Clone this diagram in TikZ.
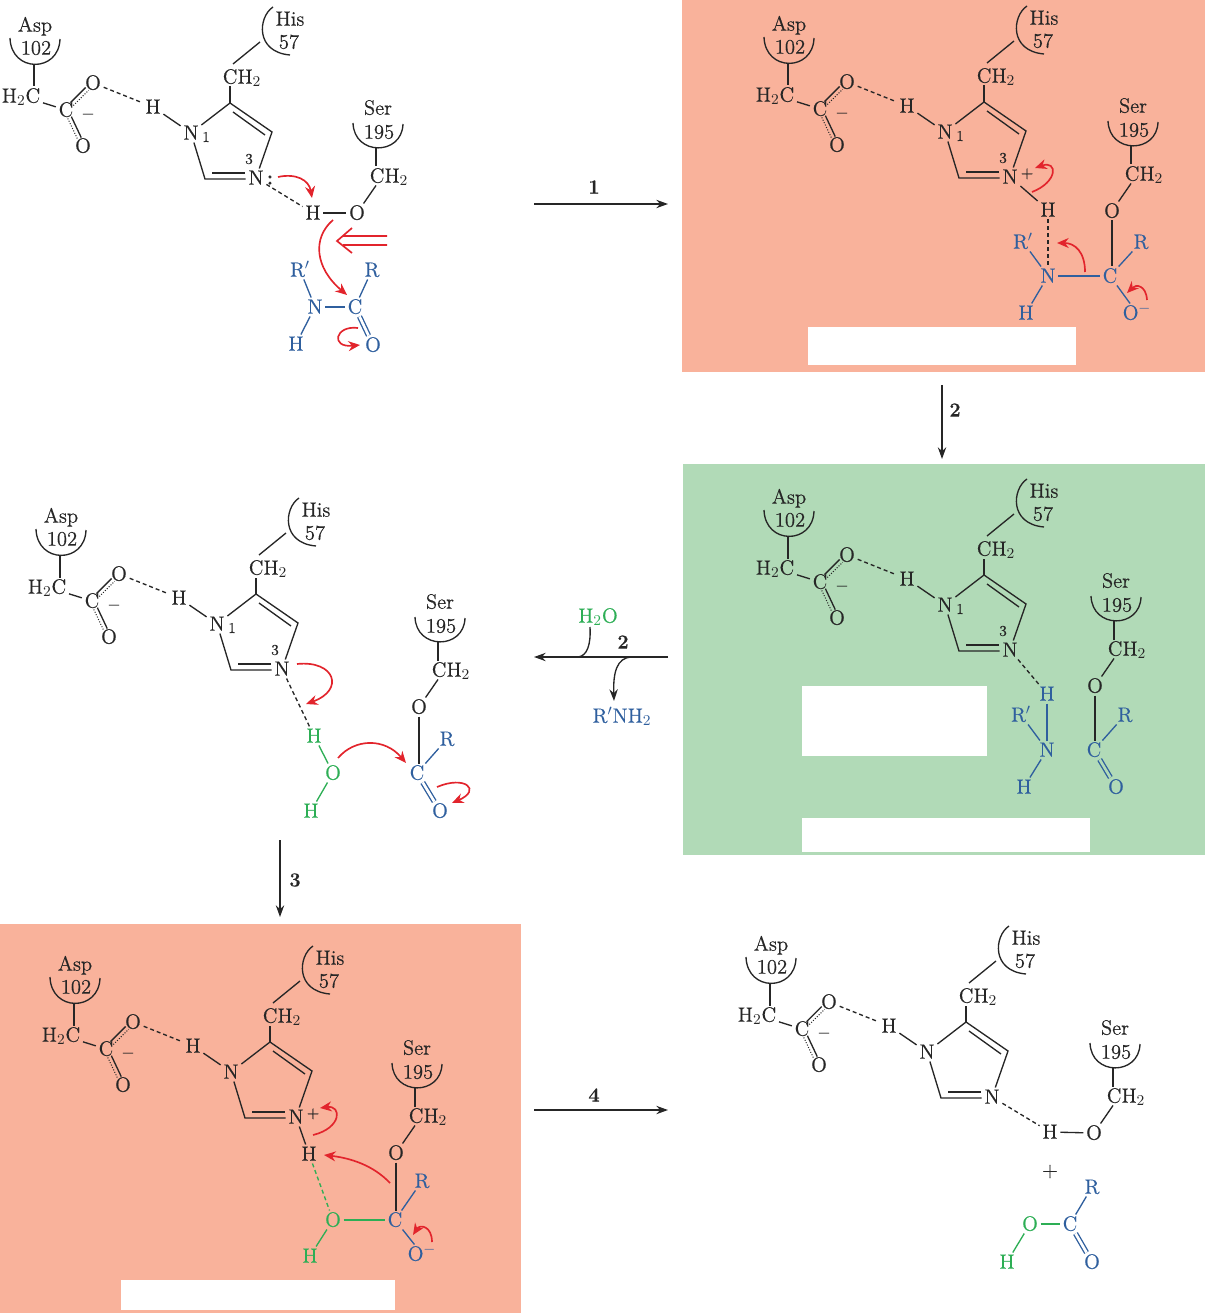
\documentclass[tikz,border=0pt]{standalone}
\usepackage{fontspec}
\usetikzlibrary{arrows.meta,calc}

\newfontfamily\chemfont{Latin Modern Roman}[FakeBold=0.5,Ligatures=TeX]
\newcommand{\plusup}{\hspace{1pt}\raisebox{3.5pt}{\fontsize{9.5}{10}\chemfont +}}

\definecolor{ink}{HTML}{262626}
\definecolor{pepblue}{HTML}{2F5F9E}
\definecolor{watgreen}{HTML}{2DAE55}
\definecolor{pushred}{HTML}{E2242C}
\definecolor{salmon}{HTML}{F9B29B}
\definecolor{mint}{HTML}{B1DAB7}

\tikzset{
  atm/.style={inner sep=1.5pt, text height=8pt, text depth=0pt, text=ink, font=\fontsize{12.4}{14}\chemfont},
  smallnum/.style={inner sep=0pt, text=ink, font=\fontsize{9}{10}\chemfont},
  blu/.style={atm, text=pepblue},
  grn/.style={atm, text=watgreen},
  bond/.style={line width=0.8pt, draw=ink},
  bbond/.style={bond, draw=pepblue},
  gbond/.style={bond, draw=watgreen},
  hbond/.style={bond, dash pattern=on 2.4pt off 1.8pt},
  push/.style={line width=1pt, draw=pushred, -{Stealth[length=7pt,width=6pt]}},
  rxn/.style={line width=0.8pt, draw=ink, -{Stealth[length=7pt,width=5pt]}},
  steplabel/.style={inner sep=1pt, text=ink, font=\fontsize{12}{14}\chemfont\bfseries},
}

% Asp 102 and His 57, written at the places of the first panel
\newcommand{\aspHis}[5]{
  \begin{scope}[shift={#2}, name prefix=#1]
    \node [atm] (asp) at (35,25) {Asp};
    \node [atm] (aspnum) at (36,48) {102};
    \coordinate (aspcup) at (34,64);
    \draw [bond] (10,38) .. controls (11,73) and (59,73) .. (60,39);
    \node [atm] (hc) at (21,96) {H$_2$C};
    \draw [bond] (aspcup) -- (hc.north -| aspcup);
    \node [atm] (co) at (66,110) {C};
    \node [atm] (oa) at (93,83) {O};
    \node [atm] (ob) at (83,146) {O};
    \node [atm] (minus) at (88,113) {--};
    \draw [bond] (hc) -- (co);
    \foreach \o in {oa,ob} {
      \draw [bond, shorten <=5pt, shorten >=5pt] ($(co)!1.2pt!90:(\o)$) -- ($(\o)!1.2pt!-90:(co)$);
      \draw [bond, line width=0.6pt, densely dotted, shorten <=5pt, shorten >=5pt] ($(co)!1.2pt!-90:(\o)$) -- ($(\o)!1.2pt!90:(co)$);
    }
    \node [atm] (hn) at (153,107) {H};
    \draw [hbond] (oa) -- (hn);
    \node [atm] (na) at (191,133) {N};
    \node [atm] (nb) at (256,178) {N};
    \node [atm, anchor=west, inner sep=0pt] (nbx) at ([xshift=-1pt]nb.east) {#3};
    \node [smallnum] (numa) at (206,137) {#4};
    \node [smallnum] (numb) at (249,159) {#5};
    \draw [bond] (hn) -- (na);
    \coordinate (ctop) at (230,103);
    \coordinate (cright) at (272,132);
    \coordinate (cleft) at (205,179);
    \coordinate (ia) at (233,112);
    \coordinate (ib) at (265,135);
    \coordinate (ic) at (212,173);
    \coordinate (id) at (245,173);
    \draw [bond] (na) -- (ctop) -- (cright) -- (nb);
    \draw [bond] (na) -- (cleft) -- (nb.west |- cleft);
    \draw [bond] (ia) -- (ib);
    \draw [bond] (ic) -- (id);
    \node [atm] (cha) at (242,77) {CH$_2$};
    \draw [bond] (ctop) -- (cha.south -| ctop);
    \node [atm] (his) at (290,19) {His};
    \node [atm] (hisnum) at (289,42) {57};
    \draw [bond] (273,7) .. controls (258,17) and (255,52) .. (290,55);
    \coordinate (hiscup) at (260,42);
    \draw [bond] (hiscup) -- (233,64);
  \end{scope}
}

% Ser 195 down to its oxygen
\newcommand{\serSide}[2]{
  \begin{scope}[shift={#2}, name prefix=#1]
    \node [atm] (ser) at (378,108) {Ser};
    \node [atm] (sernum) at (379,132) {195};
    \draw [bond] (353,123) .. controls (354,156) and (402,156) .. (403,124);
    \coordinate (sercup) at (376,148);
    \node [atm] (chb) at (389,176) {CH$_2$};
    \node [atm] (so) at (357,213) {O};
    \draw [bond] (sercup) -- (chb.north -| sercup);
    \draw [bond] (chb.south -| sercup) -- (so);
  \end{scope}
}

\begin{document}
\begin{tikzpicture}[x=0.6pt, y=-0.6pt]
  \useasboundingbox (0,0) rectangle (1205,1313);

  % Panels
  \fill [salmon] (682,0) rectangle (1205,372);
  \fill [mint] (683,464) rectangle (1205,855);
  \fill [salmon] (0,924) rectangle (521,1313);
  \fill [white] (808,327) rectangle (1076,365);
  \fill [white] (802,686) rectangle (987,756);
  \fill [white] (802,818) rectangle (1090,852);
  \fill [white] (121,1280) rectangle (395,1310);

  % Reaction arrows
  \node [steplabel] (one) at (594,187) {1};
  \coordinate (onea) at (534,204);
  \coordinate (oneb) at (668,204);
  \draw [rxn] (onea) -- (oneb);
  \node [steplabel] (two) at (955,410) {2};
  \coordinate (twoa) at (942,385);
  \coordinate (twob) at (942,459);
  \draw [rxn] (twoa) -- (twob);
  \node [steplabel] (twoc) at (623,642) {2};
  \coordinate (lva) at (668,657);
  \coordinate (lvb) at (534,657);
  \draw [rxn] (lva) -- (lvb);
  \node [atm, text=watgreen] (water) at (598,616) {H$_2$O};
  \node [blu] (amine) at (622,716) {R$'$NH$_2$};
  \coordinate (wata) at (590,627);
  \coordinate (watb) at (578,657);
  \draw [bond] (wata) .. controls (591,645) and (587,656) .. (watb);
  \coordinate (amia) at (631,657);
  \coordinate (amib) at (614,701);
  \draw [rxn] (amia) .. controls (617,658) and (613,672) .. (amib);
  \node [steplabel] (three) at (295,880) {3};
  \coordinate (threea) at (280,840);
  \coordinate (threeb) at (280,917);
  \draw [rxn] (threea) -- (threeb);
  \node [steplabel] (four) at (594,1095) {4};
  \coordinate (foura) at (534,1110);
  \coordinate (fourb) at (668,1110);
  \draw [rxn] (foura) -- (fourb);

  % Panel 1
  \aspHis{a-}{(0,0)}{\hspace{1pt}\textbf{:}}{1}{3}
  \serSide{a-}{(0,0)}
  \node [atm] (a-h) at (313,213) {H};
  \draw [bond] (a-h) -- (a-so);
  \draw [hbond] (a-nb) -- (a-h);
  \node [blu] (a-rp) at (300,270) {R$'$};
  \node [blu] (a-r) at (372,270) {R};
  \node [blu] (a-n) at (315,307) {N};
  \node [blu] (a-c) at (355,307) {C};
  \node [blu] (a-hb) at (296,344) {H};
  \node [blu] (a-o) at (373,345) {O};
  \draw [bbond] (a-rp) -- (a-n);
  \draw [bbond] (a-n) -- (a-c);
  \draw [bbond] (a-n) -- (a-hb);
  \draw [bbond] (a-c) -- (a-r);
  \draw [bbond, double=white, double distance=1.6pt] (a-c) -- (a-o);
  \draw [push] (278,177) .. controls (296,173) and (309,180) .. (312,198);
  \draw [push] (333,220) .. controls (312,238) and (315,268) .. (347,295);
  \draw [push] (358,328) .. controls (335,325) and (330,348) .. (360,345);
  \draw [line width=1pt, draw=pushred] (387,236) -- (343,236) (387,245) -- (343,245)
    (352,228) -- (337,241) -- (352,253);

  % Panel 2
  \aspHis{b-}{(754,-1)}{\plusup}{1}{3}
  \serSide{b-}{(755,-2)}
  \node [atm] (b-h) at (1048,210) {H};
  \draw [bond] (b-nb) -- (b-h);
  \node [blu] (b-rp) at (1023,242) {R$'$};
  \node [blu] (b-r) at (1141,242) {R};
  \node [blu] (b-n) at (1048,276) {N};
  \node [blu] (b-c) at (1110,276) {C};
  \node [blu] (b-hb) at (1026,313) {H};
  \node [blu] (b-o) at (1137,313) {O$^-$};
  \draw [hbond] (b-h) -- (b-n);
  \draw [bond] (b-so) -- (b-so |- b-c.north);
  \draw [bbond] (b-rp) -- (b-n);
  \draw [bbond] (b-n) -- (b-c);
  \draw [bbond] (b-n) -- (b-hb);
  \draw [bbond] (b-c) -- (b-r);
  \draw [bbond] (b-c) -- (b-o);
  \draw [push] (1032,192) .. controls (1058,182) and (1058,160) .. (1035,168);
  \draw [push] (1085,272) .. controls (1085,252) and (1075,243) .. (1057,243);
  \draw [push] (1147,300) .. controls (1146,285) and (1136,284) .. (1127,293);

  % Panel 3
  \aspHis{c-}{(754,472)}{}{1}{3}
  \serSide{c-}{(738,473)}
  \node [blu] (c-h) at (1047,694) {H};
  \draw [hbond] (c-nb) -- (c-h);
  \node [blu] (c-rp) at (1021,715) {R$'$};
  \node [blu] (c-r) at (1125,715) {R};
  \node [blu] (c-n) at (1047,750) {N};
  \node [blu] (c-c) at (1094,750) {C};
  \node [blu] (c-hb) at (1024,787) {H};
  \node [blu] (c-o) at (1116,787) {O};
  \draw [bbond] (c-h) -- (c-n);
  \draw [bond] (c-so) -- (c-so |- c-c.north);
  \draw [bbond] (c-rp) -- (c-n);
  \draw [bbond] (c-n) -- (c-hb);
  \draw [bbond] (c-c) -- (c-r);
  \draw [bbond, double=mint, double distance=1.6pt] (c-c) -- (c-o);

  % Panel 4
  \aspHis{d-}{(26,491)}{}{1}{3}
  \serSide{d-}{(62,494)}
  \node [grn] (d-h) at (314,736) {H};
  \node [grn] (d-w) at (333,773) {O};
  \node [grn] (d-hb) at (311,811) {H};
  \node [blu] (d-c) at (417,773) {C};
  \node [blu] (d-r) at (447,739) {R};
  \node [blu] (d-o) at (440,811) {O};
  \draw [hbond] (d-nb) -- (d-h);
  \draw [gbond] (d-h) -- (d-w);
  \draw [gbond] (d-w) -- (d-hb);
  \draw [bond] (d-so) -- (d-so |- d-c.north);
  \draw [bbond] (d-c) -- (d-r);
  \draw [bbond, double=white, double distance=1.6pt] (d-c) -- (d-o);
  \draw [push] (297,664) .. controls (335,660) and (345,690) .. (306,704);
  \draw [push] (338,758) .. controls (355,738) and (385,738) .. (406,763);
  \draw [push] (437,787) .. controls (465,775) and (482,790) .. (452,803);

  % Panel 5
  \aspHis{e-}{(40,939)}{\plusup}{}{}
  \serSide{e-}{(39,940)}
  \node [atm] (e-h) at (309,1154) {H};
  \draw [bond] (e-nb) -- (e-h);
  \node [grn] (e-w) at (333,1220) {O};
  \node [grn] (e-hb) at (310,1256) {H};
  \node [blu] (e-c) at (395,1220) {C};
  \node [blu] (e-r) at (422,1181) {R};
  \node [blu] (e-o) at (422,1254) {O$^-$};
  \draw [hbond, draw=watgreen] (e-h) -- (e-w);
  \draw [gbond] (e-w) -- (e-c);
  \draw [gbond] (e-w) -- (e-hb);
  \draw [bond] (e-so) -- (e-so |- e-c.north);
  \draw [bbond] (e-c) -- (e-r);
  \draw [bbond] (e-c) -- (e-o);
  \draw [push] (313,1135) .. controls (342,1128) and (342,1105) .. (320,1108);
  \draw [push] (390,1183) .. controls (373,1165) and (350,1158) .. (324,1155);
  \draw [push] (432,1242) .. controls (432,1226) and (420,1224) .. (413,1235);

  % Panel 6
  \aspHis{f-}{(736,919)}{}{}{}
  \serSide{f-}{(737,920)}
  \node [atm] (f-h) at (1050,1132) {H};
  \draw [bond] (f-h) -- (f-so);
  \draw [hbond] (f-nb) -- (f-h);
  \node [atm, inner sep=0pt] (plus) at (1050,1170) {+};
  \node [grn] (f-w) at (1030,1224) {O};
  \node [grn] (f-hb) at (1007,1262) {H};
  \node [blu] (f-c) at (1070,1224) {C};
  \node [blu] (f-r) at (1092,1187) {R};
  \node [blu] (f-o) at (1092,1262) {O};
  \draw [gbond] (f-w) -- (f-c);
  \draw [gbond] (f-w) -- (f-hb);
  \draw [bbond] (f-c) -- (f-r);
  \draw [bbond, double=white, double distance=1.6pt] (f-c) -- (f-o);
\end{tikzpicture}
\end{document}
